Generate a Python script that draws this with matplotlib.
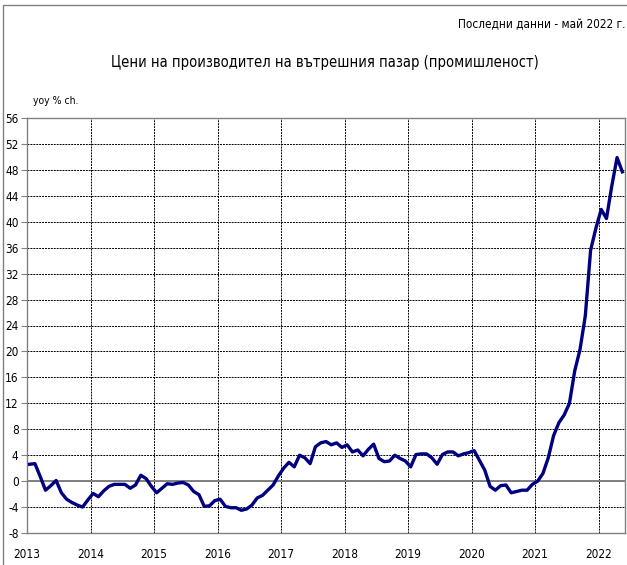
### ---- PPI domestic market (industry), yoy % change
import numpy as np
import matplotlib
matplotlib.use("Agg")
import matplotlib.pyplot as plt
from matplotlib.patches import Rectangle

plt.rcParams['font.family'] = ['DejaVu Sans']
plt.rcParams['font.stretch'] = 'condensed'

### ---- Data (monthly, Jan 2013 - May 2022)
years = [2013, 2014, 2015, 2016, 2017, 2018, 2019, 2020, 2021, 2022]
ppi = [
    2.6, 2.7, 0.7, -1.4, -0.7, 0.1, -1.8, -2.8, -3.3, -3.7, -4.0, -2.9,      # 2013
    -1.9, -2.4, -1.5, -0.8, -0.5, -0.5, -0.5, -1.1, -0.6, 0.9, 0.4, -0.8,    # 2014
    -1.8, -1.1, -0.4, -0.5, -0.3, -0.2, -0.6, -1.6, -2.1, -3.9, -3.8, -3.0,  # 2015
    -2.8, -3.9, -4.1, -4.1, -4.5, -4.3, -3.7, -2.6, -2.2, -1.4, -0.6, 0.8,   # 2016
    2.0, 2.9, 2.2, 4.0, 3.6, 2.7, 5.3, 5.9, 6.1, 5.6, 5.9, 5.2,              # 2017
    5.6, 4.5, 4.8, 3.9, 4.9, 5.7, 3.5, 3.0, 3.1, 4.0, 3.5, 3.1,              # 2018
    2.2, 4.1, 4.2, 4.2, 3.6, 2.6, 4.1, 4.5, 4.5, 3.9, 4.2, 4.4,              # 2019
    4.7, 3.2, 1.7, -0.8, -1.4, -0.7, -0.6, -1.8, -1.6, -1.4, -1.4, -0.5,     # 2020
    0.0, 1.2, 3.6, 7.0, 9.0, 10.2, 12.0, 17.0, 20.3, 25.5, 35.6, 39.0,       # 2021
    41.9, 40.5, 45.5, 49.9, 47.7,                                            # 2022
]
yticks = list(range(-8, 57, 4))

### ---- Figure
fig = plt.figure(figsize=(6.27, 5.65), dpi=100)
ax = fig.add_axes([27 / 627, 32 / 565, 598 / 627, 415 / 565])

x = np.arange(len(ppi)) + 0.5
ax.plot(x, ppi, color='#000080', linewidth=2.4, zorder=3, solid_joinstyle='round')

ax.set_xlim(0, len(ppi))
ax.set_ylim(-8, 56)
ax.set_yticks(yticks)
ax.set_yticklabels([str(v) for v in yticks], fontsize=8.5)
ax.set_xticks([12 * i for i in range(len(years))])
ax.set_xticklabels([str(y) for y in years], fontsize=8.5)
ax.tick_params(axis='x', length=0, pad=11)
ax.tick_params(axis='y', length=4, width=0.8, color='#808080', pad=2)

ax.grid(True, color='black', linestyle=(0, (2, 1)), linewidth=0.7, zorder=1)
ax.axhline(0, color='#808080', linewidth=1.4, zorder=2)

for side in ['left', 'right', 'top', 'bottom']:
    ax.spines[side].set_color('#808080')
    ax.spines[side].set_linewidth(1.0)

### ---- Texts
fig.text(625 / 627, 1 - 25 / 565, 'Последни данни - май 2022 г.', fontsize=8.5,
         ha='right', va='center')
fig.text(325 / 627, 1 - 62 / 565, 'Цени на производител на вътрешния пазар (промишленост)',
         fontsize=10.5, ha='center', va='center')
fig.text(33 / 627, 1 - 101 / 565, 'yoy % ch.', fontsize=7.5, ha='left', va='center')

### ---- Outer border
fig.patches.append(Rectangle((3 / 627, -0.05), 1.0, 1 - 5 / 565 + 0.05, transform=fig.transFigure,
                             fill=False, edgecolor='#808080', linewidth=1.0))

fig.savefig('out.png', dpi=100)
